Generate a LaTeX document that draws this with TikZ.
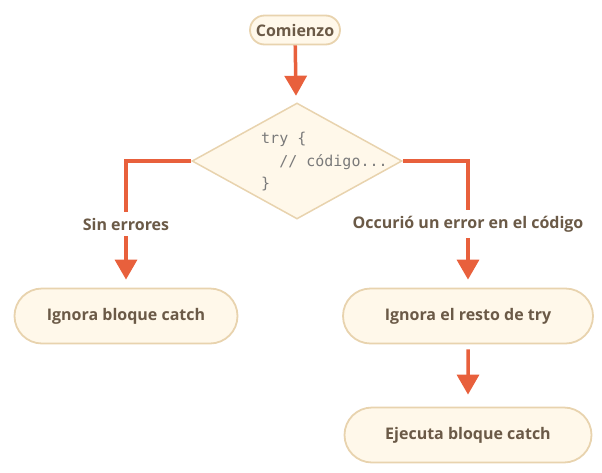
\documentclass[tikz,border=0pt]{standalone}
\usepackage{fontspec}
\setmainfont{Open Sans}
\setmonofont{DejaVu Sans Mono}
\usetikzlibrary{shapes.geometric,shapes.misc,arrows.meta}
\definecolor{boxfill}{HTML}{FFF8EA}
\definecolor{boxline}{HTML}{E8D3AE}
\definecolor{arrowred}{HTML}{E8603C}
\definecolor{textbrown}{HTML}{6B5A47}
\definecolor{codegray}{HTML}{7A7A7A}
\tikzstyle{every node}=[font=\fontsize{16}{18}\selectfont\bfseries, text=textbrown]
\tikzstyle{pill}=[rounded rectangle, draw=boxline, line width=1.8pt, fill=boxfill, minimum height=55pt, inner sep=0pt]
\tikzstyle{choice}=[diamond, draw=boxline, line width=1.5pt, fill=boxfill, minimum width=210pt, minimum height=116pt, inner sep=0pt]
\tikzstyle{code}=[font=\ttfamily\fontsize{15}{22.5}\selectfont, text=codegray, align=left, inner sep=0pt]
\tikzstyle{branch}=[fill=white, inner sep=6pt]
\tikzset{flow/.style={draw=arrowred, line width=3.5pt, -{Triangle[width=22pt,length=20pt]}}}

\begin{document}
\begin{tikzpicture}[x=1pt, y=-1pt]
    \useasboundingbox (0,0) rectangle (602,472);
    \node[pill, minimum width=90pt, minimum height=29pt] (start) at (295,30) {Comienzo};
    \node[choice] (try) at (297,161) {};
    \node[code, anchor=west] (trycode) at (261,162) {try \{\\\ \ // código...\\\}};
    \node[pill, minimum width=223pt] (skip) at (126,316) {Ignora bloque catch};
    \node[pill, minimum width=250pt] (rest) at (468,316) {Ignora el resto de try};
    \node[pill, minimum width=247pt] (catch) at (468,435) {Ejecuta bloque catch};
    \draw[flow, shorten >=7pt] (start) -- (try);
    \draw[flow, shorten >=8pt] (try.west) -| node[branch, pos=0.75] {Sin errores} (skip);
    \draw[flow, shorten >=8pt] (try.east) -| node[branch, pos=0.75] {Occurió un error en el código} (rest);
    \draw[flow, shorten <=5pt, shorten >=12pt] (rest) -- (catch);
\end{tikzpicture}
\end{document}
